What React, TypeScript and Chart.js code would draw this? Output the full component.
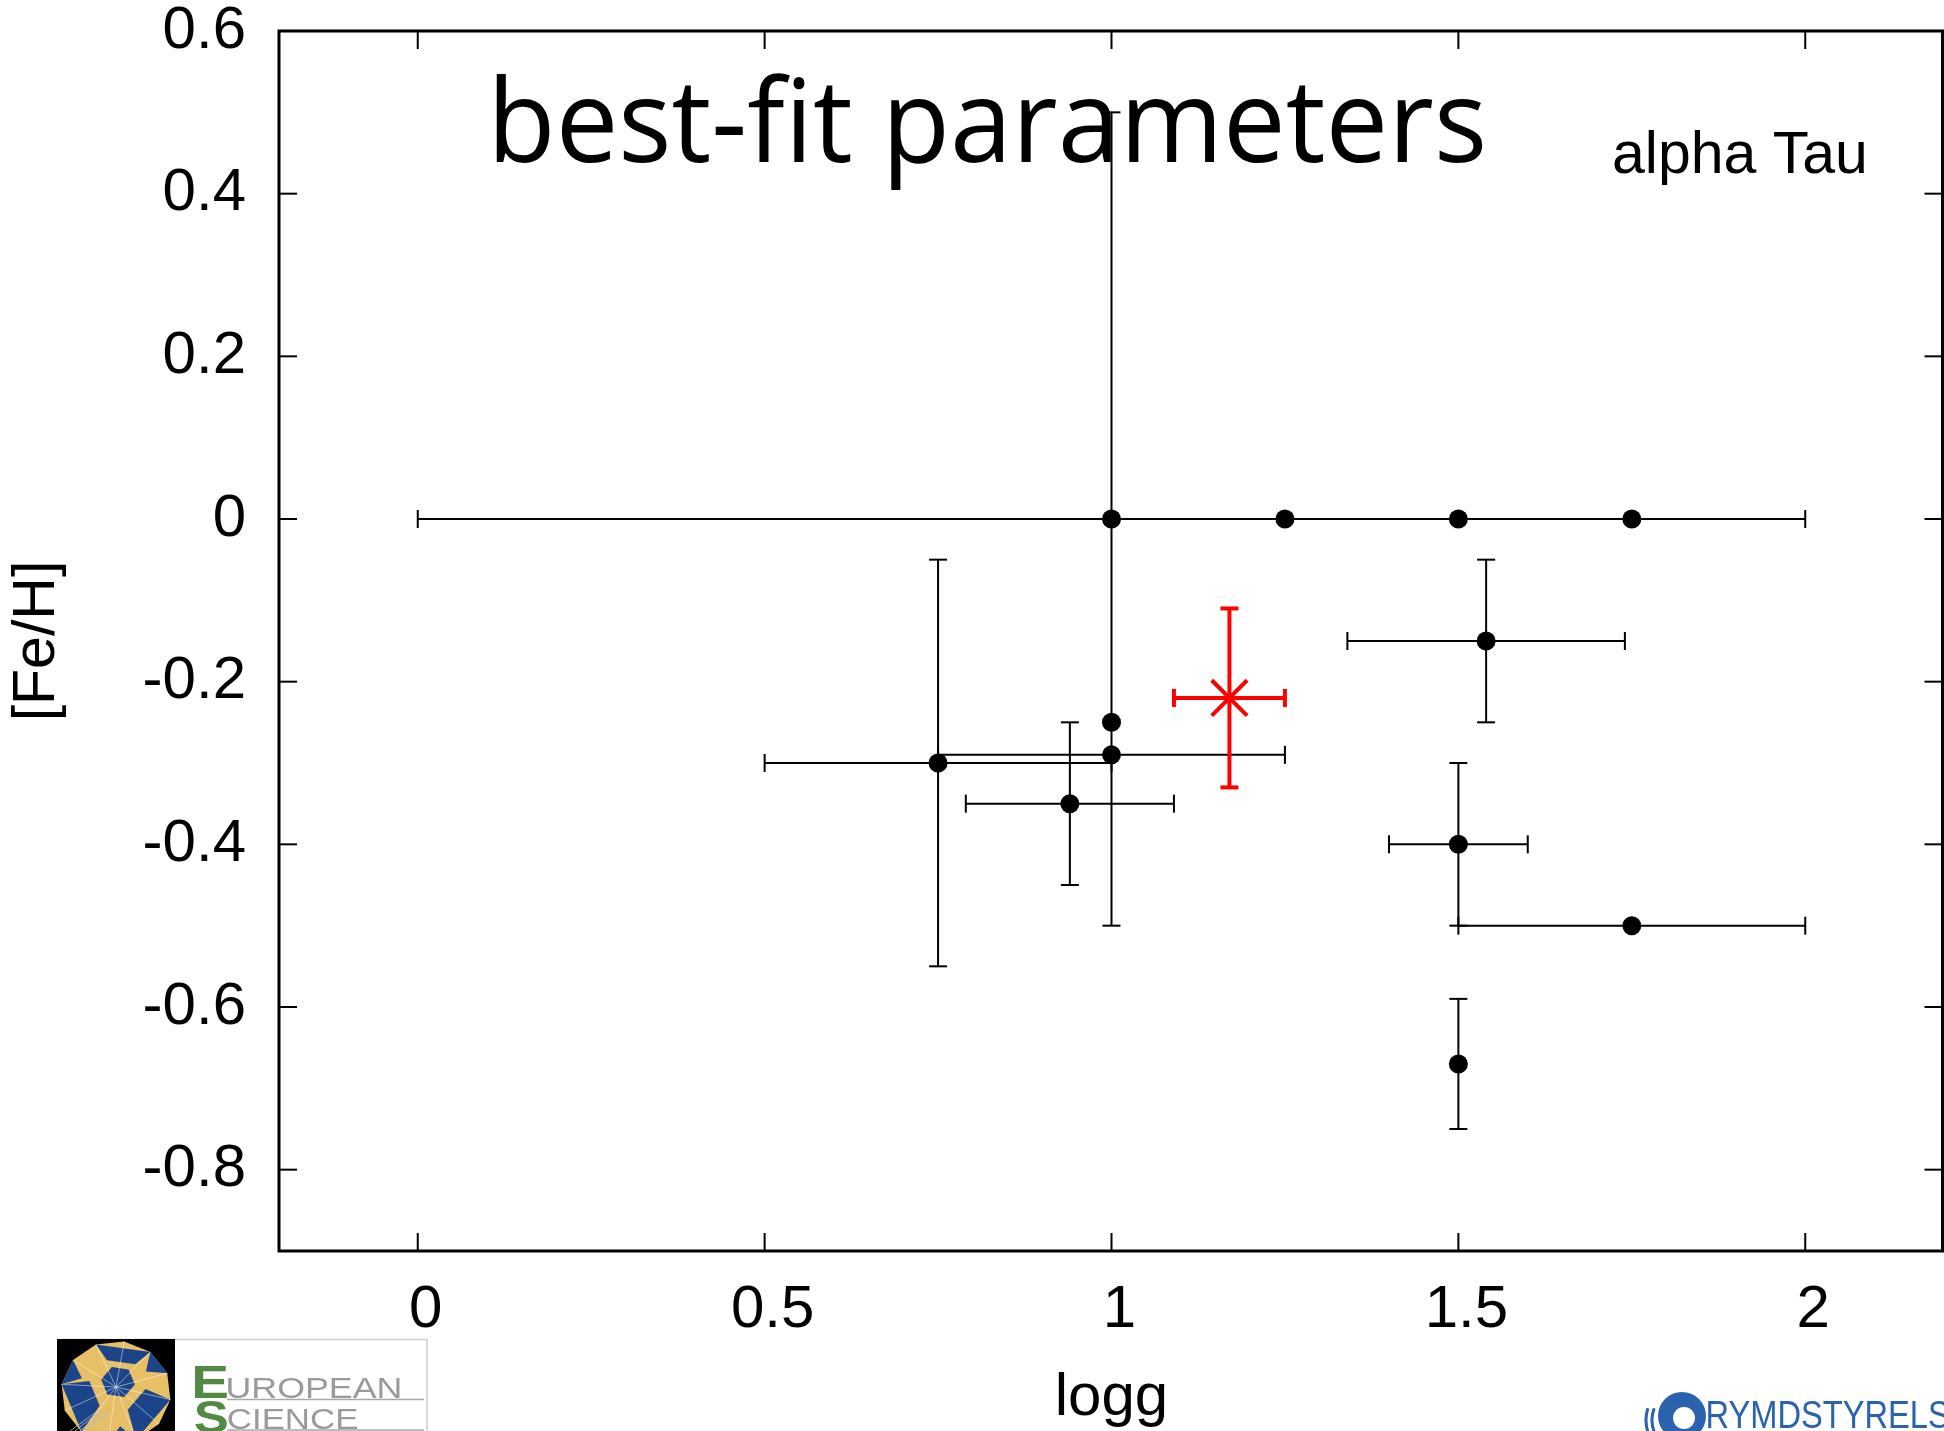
import React, { useEffect, useRef } from "react";
import { Chart, registerables } from "chart.js";

Chart.register(...registerables);

// ---------- data ----------
const loggValues = [1.0, 1.25, 1.5, 1.75, 1.54, 1.0, 1.0, 0.75, 0.94, 1.5, 1.75, 1.5];
const fehValues = [0, 0, 0, 0, -0.15, -0.25, -0.29, -0.3, -0.35, -0.4, -0.5, -0.67];
const loggErrors = [1.0, 0, 0, 0, 0.2, 0, 0.25, 0.25, 0.15, 0.1, 0.25, 0];
const fehErrors = [0.5, 0, 0, 0, 0.1, 0, 0, 0.25, 0.1, 0.1, 0, 0.08];

const bestLogg = [1.17];
const bestFeh = [-0.22];
const bestLoggErr = [0.08];
const bestFehErr = [0.11];

const xTickValues = [0, 0.5, 1, 1.5, 2];
const yTickValues = [-0.8, -0.6, -0.4, -0.2, 0, 0.2, 0.4, 0.6];

const titleText = "best-fit parameters";
const starName = "alpha Tau";
const xAxisTitle = "logg";
const yAxisTitle = "[Fe/H]";
const logoLeftWords = ["UROPEAN", "CIENCE"];
const logoRightText = "RYMDSTYRELSEN";

const SANS = '"Liberation Sans", Arial, Helvetica, sans-serif';
const TITLE_FONT = '"Open Sans", "Noto Sans", sans-serif';

const fmt = (v: number) => String(Math.round(v * 10) / 10);

function drawLine(ctx: CanvasRenderingContext2D, x1: number, y1: number, x2: number, y2: number) {
  ctx.beginPath();
  ctx.moveTo(x1, y1);
  ctx.lineTo(x2, y2);
  ctx.stroke();
}

const errorBarPlugin = {
  id: "errorBars",
  beforeDatasetsDraw(chart: any) {
    const ctx: CanvasRenderingContext2D = chart.ctx;
    const xs = chart.scales.x;
    const ys = chart.scales.y;
    chart.data.datasets.forEach((ds: any) => {
      const xe: number[] = ds.xErrors || [];
      const ye: number[] = ds.yErrors || [];
      const cap: number = ds.capHalf || 9;
      ctx.save();
      ctx.strokeStyle = ds.errorColor;
      ctx.lineWidth = ds.errorWidth;
      ctx.lineCap = "butt";
      ds.data.forEach((p: any, i: number) => {
        const px = xs.getPixelForValue(p.x);
        const py = ys.getPixelForValue(p.y);
        if (xe[i] > 0) {
          const xl = xs.getPixelForValue(p.x - xe[i]);
          const xr = xs.getPixelForValue(p.x + xe[i]);
          drawLine(ctx, xl, py, xr, py);
          drawLine(ctx, xl, py - cap, xl, py + cap);
          drawLine(ctx, xr, py - cap, xr, py + cap);
        }
        if (ye[i] > 0) {
          const yt = ys.getPixelForValue(p.y + ye[i]);
          const yb = ys.getPixelForValue(p.y - ye[i]);
          drawLine(ctx, px, yt, px, yb);
          drawLine(ctx, px - cap, yt, px + cap, yt);
          drawLine(ctx, px - cap, yb, px + cap, yb);
        }
      });
      ctx.restore();
    });
  },
};

const framePlugin = {
  id: "frame",
  afterDatasetsDraw(chart: any) {
    const ctx: CanvasRenderingContext2D = chart.ctx;
    const a = chart.chartArea;
    const xs = chart.scales.x;
    const ys = chart.scales.y;
    const right = a.right - 1.5;
    const T = 18;
    ctx.save();
    ctx.strokeStyle = "#000";
    ctx.lineWidth = 2;
    xTickValues.forEach((v) => {
      const x = xs.getPixelForValue(v);
      drawLine(ctx, x, a.bottom, x, a.bottom - T);
      drawLine(ctx, x, a.top, x, a.top + T);
    });
    yTickValues.forEach((v) => {
      const y = ys.getPixelForValue(v);
      drawLine(ctx, a.left, y, a.left + T, y);
      drawLine(ctx, right, y, right - T, y);
    });
    ctx.lineWidth = 3;
    ctx.strokeRect(a.left, a.top, right - a.left, a.bottom - a.top);
    ctx.restore();
  },
};

function drawInkLeft(ctx: CanvasRenderingContext2D, text: string, inkLeft: number, baseline: number, targetWidth?: number) {
  const m = ctx.measureText(text);
  const inkW = m.actualBoundingBoxLeft + m.actualBoundingBoxRight;
  const sx = targetWidth ? targetWidth / inkW : 1;
  ctx.save();
  ctx.translate(inkLeft, baseline);
  ctx.scale(sx, 1);
  ctx.fillText(text, m.actualBoundingBoxLeft, 0);
  ctx.restore();
}

function drawEsLogo(ctx: CanvasRenderingContext2D) {
  ctx.save();
  ctx.strokeStyle = "#cfcfcf";
  ctx.lineWidth = 1.5;
  drawLine(ctx, 57, 1339.5, 427, 1339.5);
  drawLine(ctx, 427, 1339, 427, 1431);
  ctx.fillStyle = "#000";
  ctx.fillRect(57, 1339, 118, 92);
  ctx.beginPath();
  ctx.rect(57, 1339, 118, 92);
  ctx.clip();
  const cx = 116, cy = 1392, r = 55;
  const outer: [number, number][] = [];
  for (let k = 0; k < 12; k++) {
    const ang = -Math.PI / 2 + k * (Math.PI / 6) + 0.15;
    outer.push([cx + r * Math.cos(ang), cy + r * 0.93 * Math.sin(ang)]);
  }
  ctx.fillStyle = "#e6bf66";
  ctx.beginPath();
  outer.forEach(([x, y], i) => (i ? ctx.lineTo(x, y) : ctx.moveTo(x, y)));
  ctx.closePath();
  ctx.fill();
  const hex: [number, number][] = [];
  for (let k = 0; k < 6; k++) {
    const ang = k * (Math.PI / 3) + 0.15;
    hex.push([cx + 2 + 17 * Math.cos(ang), cy - 10 + 16 * Math.sin(ang)]);
  }
  ctx.fillStyle = "#1c4589";
  ctx.beginPath();
  hex.forEach(([x, y], i) => (i ? ctx.lineTo(x, y) : ctx.moveTo(x, y)));
  ctx.closePath();
  ctx.fill();
  for (let k = 0; k < 6; k += 2) {
    const h1 = hex[k], h2 = hex[(k + 1) % 6];
    const o1 = outer[(2 * k + 3) % 12], o2 = outer[(2 * k + 5) % 12];
    ctx.beginPath();
    ctx.moveTo(h1[0] + (o1[0] - h1[0]) * 0.3, h1[1] + (o1[1] - h1[1]) * 0.3);
    ctx.lineTo(o1[0], o1[1]);
    ctx.lineTo(o2[0], o2[1]);
    ctx.lineTo(h2[0] + (o2[0] - h2[0]) * 0.3, h2[1] + (o2[1] - h2[1]) * 0.3);
    ctx.closePath();
    ctx.fill();
  }
  for (let k = 1; k < 12; k += 4) {
    const o1 = outer[k], o2 = outer[(k + 1) % 12];
    ctx.beginPath();
    ctx.moveTo(o1[0], o1[1]);
    ctx.lineTo(o2[0], o2[1]);
    ctx.lineTo(cx + (o1[0] + o2[0] - 2 * cx) * 0.35, cy + (o1[1] + o2[1] - 2 * cy) * 0.35);
    ctx.closePath();
    ctx.fill();
  }
  ctx.strokeStyle = "rgba(255,255,255,0.6)";
  ctx.lineWidth = 0.8;
  outer.forEach(([x, y]) => drawLine(ctx, cx, cy - 5, x, y));
  ctx.strokeStyle = "#bbbbbb";
  for (let k = 0; k < 5; k++) drawLine(ctx, 70 + k * 5, 1431, 96 + k * 3, 1412);
  ctx.restore();

  ctx.save();
  ctx.fillStyle = "#528a43";
  ctx.font = `bold 46px ${SANS}`;
  ctx.textBaseline = "alphabetic";
  drawInkLeft(ctx, "E", 195, 1398, 32);
  drawInkLeft(ctx, "S", 195, 1433, 32);
  ctx.fillStyle = "#9a9a9a";
  ctx.font = `29px ${SANS}`;
  drawInkLeft(ctx, logoLeftWords[0], 228, 1398, 172);
  drawInkLeft(ctx, logoLeftWords[1], 228, 1429, 130);
  ctx.strokeStyle = "#a8a8a8";
  ctx.lineWidth = 1.5;
  drawLine(ctx, 227, 1399.5, 424, 1399.5);
  drawLine(ctx, 227, 1430, 424, 1430);
  ctx.restore();
}

function drawRsLogo(ctx: CanvasRenderingContext2D) {
  ctx.save();
  const blue = "#2a62ad";
  ctx.strokeStyle = blue;
  ctx.lineWidth = 3;
  ctx.beginPath();
  ctx.arc(1684, 1420, 38, Math.PI * 0.9, Math.PI * 1.1);
  ctx.stroke();
  ctx.beginPath();
  ctx.arc(1684, 1420, 32, Math.PI * 0.88, Math.PI * 1.12);
  ctx.stroke();
  ctx.fillStyle = blue;
  ctx.beginPath();
  ctx.arc(1682, 1416, 24, 0, Math.PI * 2);
  ctx.fill();
  ctx.fillStyle = "#fff";
  ctx.beginPath();
  ctx.arc(1684, 1418, 11, 0, Math.PI * 2);
  ctx.fill();
  ctx.fillStyle = blue;
  ctx.font = `38px ${SANS}`;
  ctx.textBaseline = "alphabetic";
  drawInkLeft(ctx, logoRightText, 1708, 1428, 285);
  ctx.restore();
}

const textPlugin = {
  id: "annotations",
  afterDraw(chart: any) {
    const ctx: CanvasRenderingContext2D = chart.ctx;
    ctx.save();
    ctx.fillStyle = "#000";
    ctx.textAlign = "left";
    ctx.textBaseline = "alphabetic";
    ctx.font = `116px ${TITLE_FONT}`;
    drawInkLeft(ctx, titleText, 496, 161.7, 987);
    ctx.font = `59px ${SANS}`;
    drawInkLeft(ctx, starName, 1614, 173.3);
    ctx.restore();
    drawEsLogo(ctx);
    drawRsLogo(ctx);
  },
};

export default function App() {
  const ref = useRef<HTMLCanvasElement>(null);

  useEffect(() => {
    const canvas = ref.current;
    if (!canvas) return;
    const tickFont = { family: SANS, size: 60, lineHeight: 1 };
    const chart = new Chart(canvas, {
      type: "scatter",
      data: {
        datasets: [
          {
            label: "literature",
            data: loggValues.map((x, i) => ({ x, y: fehValues[i] })),
            xErrors: loggErrors,
            yErrors: fehErrors,
            errorColor: "#000",
            errorWidth: 2,
            capHalf: 9,
            pointStyle: "circle",
            pointRadius: 9.5,
            pointBorderWidth: 0,
            backgroundColor: "#000",
            borderColor: "#000",
          } as any,
          {
            label: "best fit",
            data: bestLogg.map((x, i) => ({ x, y: bestFeh[i] })),
            xErrors: bestLoggErr,
            yErrors: bestFehErr,
            errorColor: "#ff0000",
            errorWidth: 4,
            capHalf: 9,
            pointStyle: "crossRot",
            pointRadius: 25,
            pointBorderWidth: 4,
            borderColor: "#ff0000",
            backgroundColor: "#ff0000",
          } as any,
        ],
      },
      options: {
        animation: false,
        responsive: false,
        devicePixelRatio: 1,
        events: [],
        layout: { autoPadding: false, padding: { top: 31, left: 0, right: 0, bottom: 0 } },
        plugins: {
          legend: { display: false },
          title: { display: false },
          tooltip: { enabled: false },
        },
        scales: {
          x: {
            type: "linear",
            position: "bottom",
            min: -0.2,
            max: 2.2,
            afterBuildTicks: (s: any) => {
              s.ticks = xTickValues.map((value) => ({ value }));
            },
            afterFit: (s: any) => {
              s.height = 180;
              s.paddingLeft = 0;
              s.paddingRight = 0;
              s.paddingTop = 0;
              s.paddingBottom = 0;
            },
            grid: { display: false, drawTicks: false },
            border: { display: false },
            ticks: {
              font: tickFont,
              color: "#000",
              padding: 29,
              labelOffset: 8,
              maxRotation: 0,
              autoSkip: false,
              callback: (v: any) => fmt(Number(v)),
            },
            title: {
              display: true,
              text: xAxisTitle,
              color: "#000",
              font: { family: SANS, size: 60, lineHeight: 1 },
              padding: { top: 0, bottom: 3 },
            },
          },
          y: {
            type: "linear",
            position: "left",
            min: -0.9,
            max: 0.6,
            afterBuildTicks: (s: any) => {
              s.ticks = yTickValues.map((value) => ({ value }));
            },
            afterFit: (s: any) => {
              s.width = 279;
              s.paddingLeft = 0;
              s.paddingRight = 0;
              s.paddingTop = 0;
              s.paddingBottom = 0;
            },
            grid: { display: false, drawTicks: false },
            border: { display: false },
            ticks: {
              font: tickFont,
              color: "#000",
              padding: 33,
              autoSkip: false,
              callback: (v: any) => fmt(Number(v)),
            },
            title: {
              display: true,
              text: yAxisTitle,
              color: "#000",
              font: { family: SANS, size: 59, lineHeight: 1 },
              padding: { top: 8, bottom: 0 },
            },
          },
        },
      } as any,
      plugins: [errorBarPlugin, framePlugin, textPlugin],
    });
    return () => chart.destroy();
  }, []);

  return (
    <div style={{ position: "absolute", left: 0, top: 0, width: 1944, height: 1431, background: "#fff", overflow: "hidden" }}>
      <canvas ref={ref} width={1944} height={1431} style={{ display: "block", width: 1944, height: 1431 }} />
    </div>
  );
}
